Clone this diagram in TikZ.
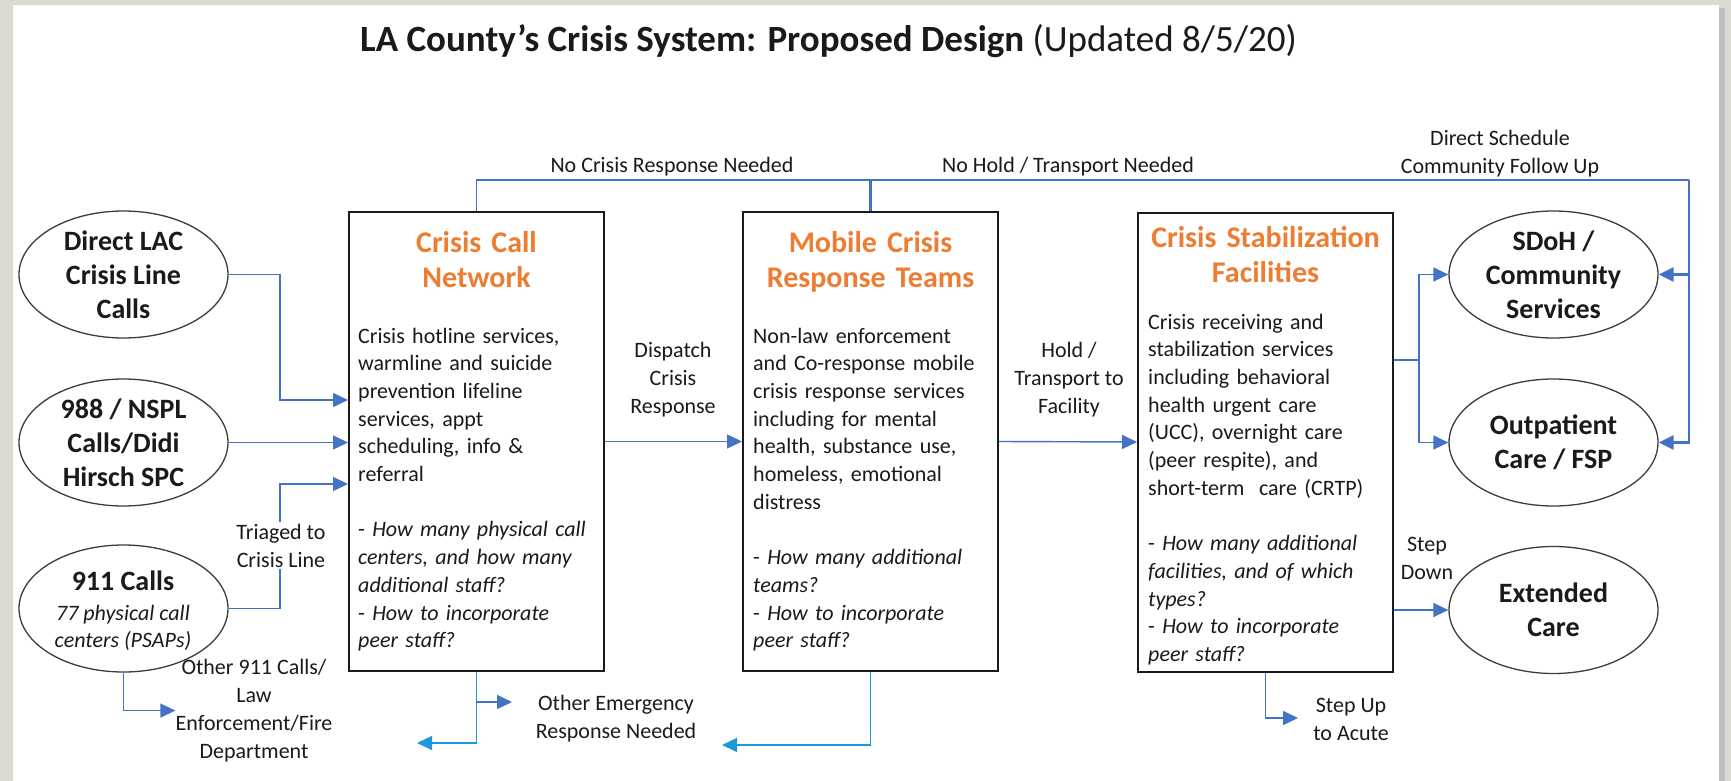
\documentclass[tikz,border=0pt]{standalone}
\usepackage{fontspec}
\setmainfont{Carlito}
\usetikzlibrary{shapes.geometric,arrows.meta,calc}
\definecolor{cblue}{HTML}{4472C4}
\definecolor{lblue}{HTML}{1F98D8}
\definecolor{corange}{HTML}{ED7D31}
\definecolor{ink}{HTML}{1A1A1A}
\definecolor{bgout}{HTML}{DCD9D2}
\begin{document}
\begin{tikzpicture}[x=1pt,y=-1pt,
  ell/.style={draw=ink!85, line width=1.3pt, ellipse, minimum width=209pt, minimum height=127pt, inner sep=0pt, align=center, font=\fontsize{28}{34}\selectfont\bfseries, text=ink},
  box/.style={draw=ink, line width=2pt, inner sep=0pt, minimum width=255pt, minimum height=459pt},
  ttl/.style={text=corange, font=\fontsize{30}{35}\selectfont\bfseries, align=center, text width=250pt, inner sep=0pt, anchor=base},
  body/.style={text=ink, font=\fontsize{22}{27.7}\selectfont, align=left, text width=245pt, inner sep=0pt, anchor=base west},
  lbl/.style={text=ink, font=\fontsize{22}{27.7}\selectfont, align=center, inner sep=0pt, anchor=base},
  conn/.style={draw=cblue, line width=1.4pt},
  thk/.style={draw=cblue, line width=2.6pt},
  lconn/.style={draw=lblue, line width=1.4pt},
  tip/.style={-{Triangle[length=15pt,width=14pt]}},
]
\useasboundingbox (0,0) rectangle (1731,781);
% background and panel
\fill[bgout] (0,0) rectangle (1731,781);
\fill[black!25] (16,8) rectangle (1725,781);
\fill[white] (13,5) rectangle (1719,781);

% title
\node[anchor=base west, inner sep=0pt, text=ink, font=\fontsize{37}{44}\selectfont] (title) at (360,52)
  {\bfseries LA County’s Crisis System: Proposed Design \mdseries(Updated 8/5/20)};

% coordinates
\coordinate (x280) at (280,0);
\coordinate (y400) at (0,400);
\coordinate (y484) at (0,484);
\coordinate (y702) at (0,702);
\coordinate (tr) at (1689,180);
\coordinate (j) at (1419,360);
\coordinate (oeL) at (417,743);
\coordinate (oeR) at (512,702);
\coordinate (oeM) at (722,745);
\coordinate (su) at (1298,718);

% left ellipses
\node[ell] (e1) at (123.5,274.5) {Direct LAC\\Crisis Line\\Calls};
\node[ell] (e2) at (123.5,442.5) {988 / NSPL\\Calls/Didi\\Hirsch SPC};
\node[ell] (e3) at (123.5,608.5) {};
\node[lbl, font=\fontsize{28}{34}\selectfont\bfseries] (e3a) at (123,590) {911 Calls};
\node[lbl, font=\fontsize{22}{27}\selectfont\itshape] (e3b) at (123,620) {77 physical call};
\node[lbl, font=\fontsize{22}{27}\selectfont\itshape] (e3c) at (123,647) {centers (PSAPs)};

% right ellipses
\node[ell] (s1) at (1553.5,274.5) {SDoH /\\Community\\Services};
\node[ell] (s2) at (1553.5,442.5) {Outpatient\\Care / FSP};
\node[ell] (s3) at (1553.5,610) {Extended\\Care};

% boxes
\node[box] (ccn) at (476.5,441.5) {};
\node[box] (mcrt) at (870.5,441.5) {};
\node[box] (csf) at (1265.5,442) {};

\node[ttl] (ccnt) at (476.5,252) {Crisis Call\\Network};
\node[ttl] (mcrtt) at (870.5,252) {Mobile Crisis\\Response Teams};
\node[ttl] (csft) at (1265.5,247) {Crisis Stabilization\\Facilities};

\node[body] (ccnb) at (358,343) {Crisis hotline services,\\warmline and suicide\\prevention lifeline\\services, appt\\scheduling, info \&\\referral\\[27.7pt]- \textit{How many physical call}\\\textit{centers, and how many}\\\textit{additional staff?}\\- \textit{How to incorporate}\\\textit{peer staff?}};
\node[body] (mcrtb) at (753,343) {Non-law enforcement\\and Co-response mobile\\crisis response services\\including for mental\\health, substance use,\\homeless, emotional\\distress\\[27.7pt]- \textit{How many additional}\\\textit{teams?}\\- \textit{How to incorporate}\\\textit{peer staff?}};
\node[body] (csfb) at (1148,329) {Crisis receiving and\\stabilization services\\including behavioral\\health urgent care\\(UCC), overnight care\\(peer respite), and\\short-term~ care (CRTP)\\[27.7pt]- \textit{How many additional}\\\textit{facilities, and of which}\\\textit{types?}\\- \textit{How to incorporate}\\\textit{peer staff?}};

% labels (anchor = baseline of the last line)
\node[lbl] (lnc) at (672,172) {No Crisis Response Needed};
\node[lbl] (lnh) at (1068,172) {No Hold / Transport Needed};
\node[lbl] (lds) at (1500,173) {Direct Schedule\\Community Follow Up};
\node[lbl] (ldisp) at (673,413) {Dispatch\\Crisis\\Response};
\node[lbl] (lhold) at (1069,413) {Hold /\\Transport to\\Facility};
\node[lbl] (lstepd) at (1427,579) {Step\\Down};
\node[lbl] (lstepu) at (1351,740) {Step Up\\to Acute};
\node[lbl] (loe) at (616,738) {Other Emergency\\Response Needed};
\node[lbl] (l911) at (254,758) {Other 911 Calls/\\Law\\Enforcement/Fire\\Department};

% connectors left
\draw[conn, tip] (e1.east) -- (e1.east -| x280) |- (ccn.west |- y400);
\draw[conn, tip] (e2.east) -- (ccn.west |- e2.east);
\draw[conn, tip] (e3.east) -- (e3.east -| x280) |- (ccn.west |- y484);
\node[lbl, fill=white, inner sep=2pt] (ltri) at (281,567) {Triaged to\\Crisis Line};
\draw[conn, tip] (e3.south) |- (l911.west);

% bottom emergency
\draw[lconn, tip] (ccn.south) |- (oeL);
\draw[conn, tip] (ccn.south |- y702) -- (oeR);
\draw[lconn, tip] (mcrt.south) |- (oeM);

% main flow
\draw[conn, tip] (ccn.east) -- (mcrt.west);
\draw[conn, tip] (mcrt.east) -- (csf.west);

% csf outputs
\draw[conn] (csf.east |- j) -- (j);
\draw[conn, tip] (j) |- (s1.west);
\draw[conn, tip] (j) |- (s2.west);
\draw[conn, tip] (csf.east |- s3.west) -- (s3.west);
\draw[conn, tip] (csf.south) |- (su);

% top return lines
\draw[conn] (ccn.north) |- (mcrt.north |- tr);
\draw[thk] (mcrt.north) -- (mcrt.north |- tr) -- (tr);
\draw[thk, tip] (tr) |- (s2.east);
\draw[thk, tip] (tr |- s1.east) -- (s1.east);
\end{tikzpicture}
\end{document}
